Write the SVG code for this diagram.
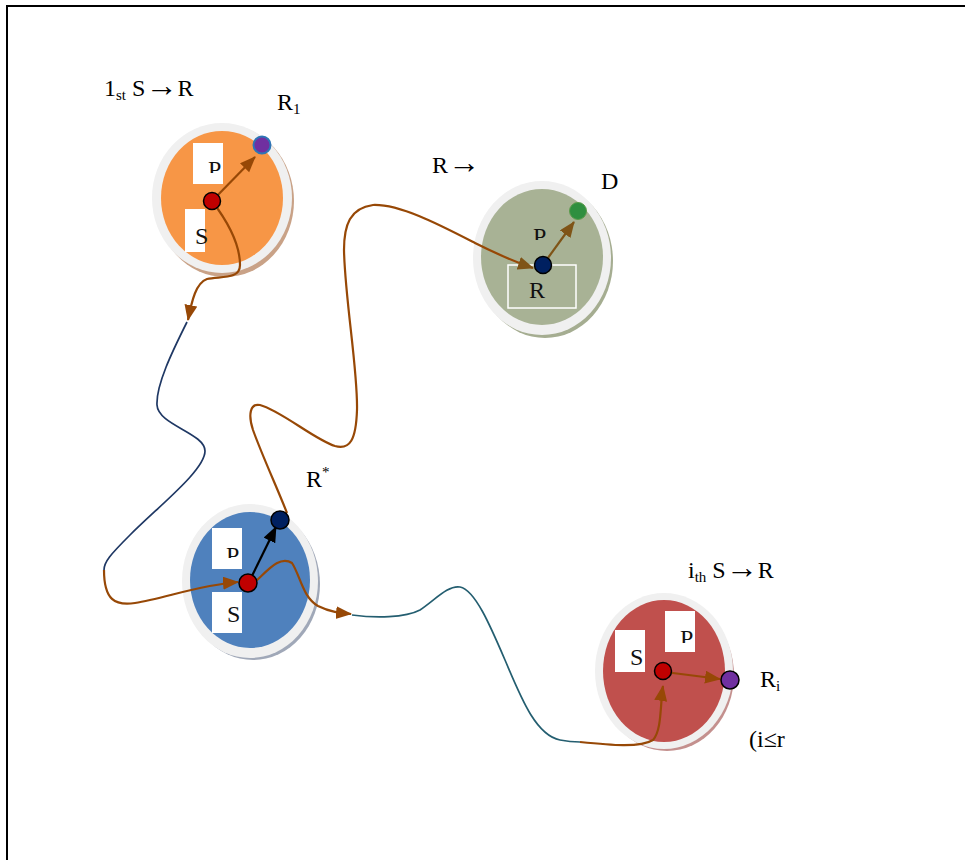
<svg xmlns="http://www.w3.org/2000/svg" width="965" height="860" viewBox="0 0 965 860">
<style>
.lbl{font-family:"Liberation Serif","Times New Roman",serif;font-size:24px;fill:#000}
.sub{font-size:15px}
.arr{font-size:32px}
.box{fill:#fff}
.boxt{font-family:"Liberation Serif","Times New Roman",serif;font-size:24px;fill:#111}
.ring{fill:#f0f0f0}
.br{fill:none;stroke:#974806;stroke-width:2.2}
.nv{fill:none;stroke:#1f3864;stroke-width:1.7}
.tl{fill:none;stroke:#245e70;stroke-width:1.7}
.dot{stroke:#000;stroke-width:1.5}
</style>
<defs>
<marker id="ab" markerUnits="userSpaceOnUse" markerWidth="18" markerHeight="14" refX="15" refY="6.5" orient="auto"><path d="M0,0 L16,6.5 L0,13 z" fill="#974806"/></marker>
<marker id="ao" markerUnits="userSpaceOnUse" markerWidth="18" markerHeight="14" refX="15" refY="6.5" orient="auto"><path d="M0,0 L16,6.5 L0,13 z" fill="#7f5417"/></marker>
<marker id="ak" markerUnits="userSpaceOnUse" markerWidth="18" markerHeight="14" refX="15" refY="6.5" orient="auto"><path d="M0,0 L16,6.5 L0,13 z" fill="#000"/></marker>
<clipPath id="c1"><rect x="193" y="143" width="30" height="30"/></clipPath>
<clipPath id="c2"><rect x="212" y="528" width="30" height="30"/></clipPath>
<clipPath id="c3"><rect x="212" y="607" width="30" height="26"/></clipPath>
<clipPath id="c4"><rect x="665" y="611" width="30" height="32"/></clipPath>
<clipPath id="c5"><rect x="520" y="220" width="40" height="20"/></clipPath>
</defs>
<rect width="965" height="860" fill="#fff"/>
<path d="M7,862 V6 H967" fill="none" stroke="#000" stroke-width="2"/>

<g id="node-first">
<ellipse cx="225" cy="201" rx="69" ry="76" fill="#c9a287"/>
<ellipse class="ring" cx="222" cy="198" rx="70" ry="75"/>
<ellipse cx="222" cy="198" rx="61" ry="67" fill="#f79646"/>
<rect class="box" x="193" y="143" width="30" height="41"/>
<text class="boxt" x="208" y="177" clip-path="url(#c1)">P</text>
<rect class="box" x="185" y="209" width="20" height="43"/>
<text class="boxt" x="195" y="244">S</text>
</g>

<g id="node-dest">
<ellipse cx="545" cy="261" rx="68" ry="77" fill="#a5ad91"/>
<ellipse class="ring" cx="542" cy="258" rx="69" ry="77"/>
<ellipse cx="542" cy="257" rx="61" ry="68" fill="#a8b295"/>
<text class="boxt" x="533" y="244" fill="#1e2a12" clip-path="url(#c5)">P</text>
<rect x="508" y="265" width="68" height="43" fill="none" stroke="#fff" stroke-width="1.5"/>
<text class="boxt" x="529" y="298">R</text>
</g>

<g id="node-relay">
<ellipse cx="253" cy="584" rx="67" ry="76" fill="#a0a8b8"/>
<ellipse class="ring" cx="250" cy="581" rx="68" ry="77"/>
<ellipse cx="250" cy="580" rx="60" ry="68" fill="#4f81bd"/>
<rect class="box" x="212" y="528" width="30" height="41"/>
<text class="boxt" x="226" y="563" clip-path="url(#c2)">P</text>
<rect class="box" x="212" y="592" width="30" height="41"/>
<text class="boxt" x="227" y="622" clip-path="url(#c3)">S</text>
</g>

<g id="node-ith">
<ellipse cx="667" cy="675" rx="67" ry="76" fill="#c4908e"/>
<ellipse class="ring" cx="664" cy="671" rx="69" ry="78"/>
<ellipse cx="664" cy="671" rx="61" ry="71" fill="#c0504d"/>
<rect class="box" x="615" y="630" width="30" height="42"/>
<text class="boxt" x="630" y="665">S</text>
<rect class="box" x="665" y="611" width="30" height="41"/>
<text class="boxt" x="680" y="646" clip-path="url(#c4)">P</text>
</g>

<g id="connectors">
<path class="br" d="M212,201 C228,222 240,245 240,265 C240,280 220,276 207,279 C196,283 192,300 188,320" marker-end="url(#ab)"/>
<path class="nv" d="M187,322 C172,352 156,385 157,405 C158,425 205,433 205,451 C205,470 160,505 130,535 C110,555 104,562 104,570"/>
<path class="br" d="M104,570 C104,600 115,606 135,603 C165,598 200,585 238,582" marker-end="url(#ab)"/>
<path class="br" d="M256,581 C268,570 280,555 292,563 C300,575 303,598 318,606 C330,612 340,613 351,614" marker-end="url(#ab)"/>
<path class="tl" d="M352,615 C375,618 405,618 420,610 C435,600 448,585 460,587 C475,590 490,625 505,660 C520,695 535,735 560,740 C570,742 575,742 580,742"/>
<path class="br" d="M580,742 C610,745 640,748 653,740 C662,730 660,705 663,686" marker-end="url(#ab)"/>
<path class="br" d="M287,513 C278,490 262,455 253,430 C248,415 250,403 260,405 C280,410 315,440 335,446 C350,450 356,440 357,410 C358,370 345,300 344,250 C344,225 350,208 373,205 C400,204 440,225 475,243 C495,253 515,262 533,268" marker-end="url(#ao)"/>
<path class="br" d="M212,201 L255,157" marker-end="url(#ab)"/>
<path fill="none" stroke="#7f5417" stroke-width="2.2" d="M545,262 L574,222" marker-end="url(#ao)"/>
<path fill="none" stroke="#000" stroke-width="2.2" d="M250,580 L276,527" marker-end="url(#ak)"/>
<path class="br" d="M665,672 L720,679" marker-end="url(#ab)"/>
</g>

<g id="dots">
<circle class="dot" cx="212" cy="201" r="8.5" fill="#c00000"/>
<circle cx="262" cy="145" r="8.5" fill="#7030a0" stroke="#2e75b6" stroke-width="2"/>
<circle class="dot" cx="543" cy="265" r="8.5" fill="#002060"/>
<circle cx="578" cy="211" r="8.5" fill="#2f8f3f" stroke="#5c9c4c" stroke-width="1"/>
<circle class="dot" cx="248" cy="583" r="9" fill="#c00000"/>
<circle class="dot" cx="280" cy="520" r="9" fill="#002060"/>
<circle class="dot" cx="663" cy="671" r="8.5" fill="#c00000"/>
<circle class="dot" cx="730" cy="680" r="9" fill="#7030a0"/>
</g>

<g id="labels">
<text class="lbl" x="104" y="96">1<tspan class="sub" dy="4">st</tspan><tspan dy="-4"> S</tspan><tspan class="arr">→</tspan>R</text>
<text class="lbl" x="277" y="110">R<tspan class="sub" dy="4">1</tspan></text>
<text class="lbl" x="432" y="173">R<tspan class="arr">→</tspan></text>
<text class="lbl" x="601" y="189">D</text>
<text class="lbl" x="306" y="487">R<tspan class="sub" dy="-10">*</tspan></text>
<text class="lbl" x="688" y="578">i<tspan class="sub" dy="4">th</tspan><tspan dy="-4"> S</tspan><tspan class="arr">→</tspan>R</text>
<text class="lbl" x="760" y="687">R<tspan class="sub" dy="4">i</tspan></text>
<text class="lbl" x="749" y="747">(i≤r</text>
</g>
</svg>
